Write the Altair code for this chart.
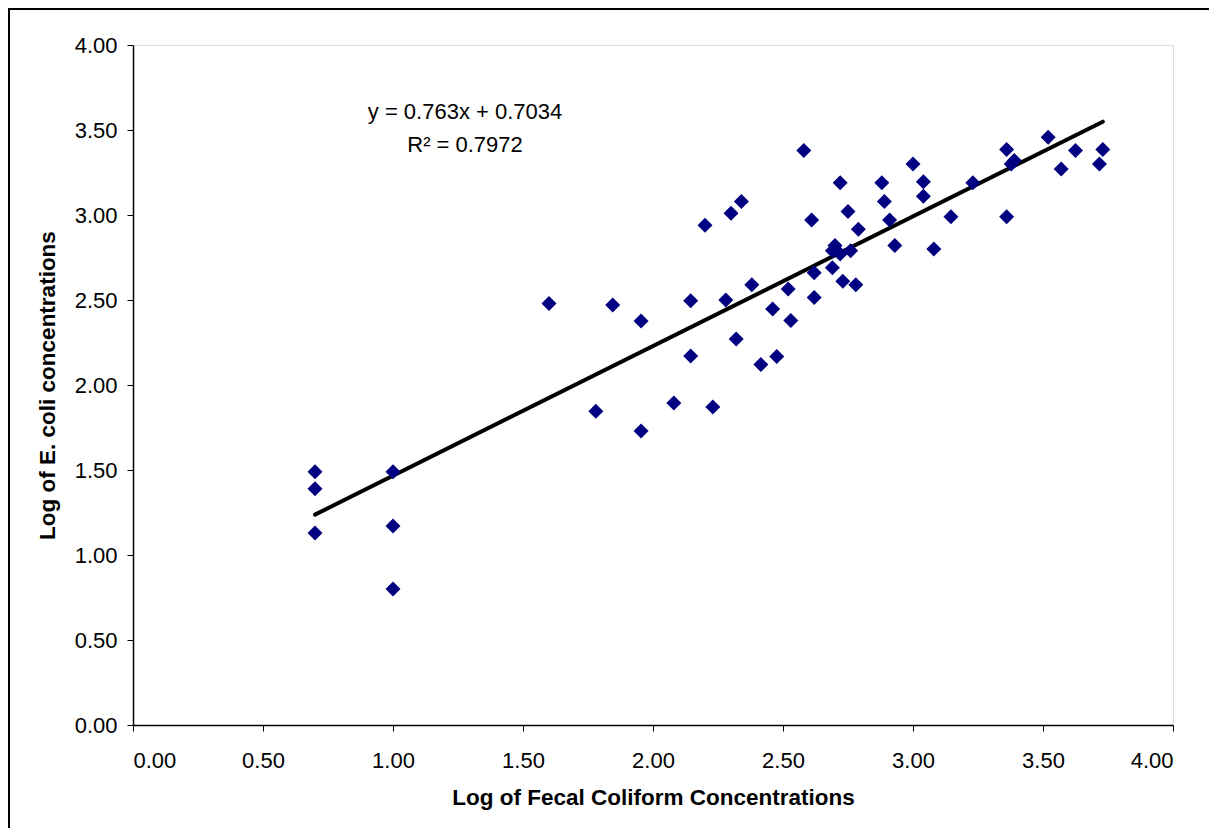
import altair as alt
import pandas as pd

# Scatter data (log fecal coliform vs log E. coli)
fecal_log = [0.70, 0.70, 0.70, 1.00, 1.00, 1.00, 1.60, 1.78, 1.845, 1.954,
             1.954, 2.08, 2.145, 2.145, 2.20, 2.23, 2.28, 2.30, 2.32, 2.34,
             2.38, 2.415, 2.46, 2.476, 2.52, 2.53, 2.58, 2.61, 2.62, 2.62,
             2.69, 2.69, 2.70, 2.72, 2.72, 2.73, 2.75, 2.76, 2.78, 2.79,
             2.88, 2.89, 2.91, 2.93, 3.00, 3.04, 3.04, 3.08, 3.146, 3.23,
             3.36, 3.36, 3.378, 3.39, 3.52, 3.57, 3.625, 3.717, 3.73]
ecoli_log = [1.49, 1.39, 1.13, 1.49, 1.17, 0.80, 2.48, 1.845, 2.47, 2.376,
             1.73, 1.894, 2.496, 2.17, 2.94, 1.87, 2.50, 3.01, 2.27, 3.08,
             2.59, 2.12, 2.447, 2.167, 2.565, 2.38, 3.38, 2.97, 2.66, 2.515,
             2.69, 2.79, 2.82, 2.77, 3.19, 2.61, 3.02, 2.79, 2.59, 2.916,
             3.19, 3.08, 2.97, 2.82, 3.30, 3.196, 3.11, 2.80, 2.99, 3.19,
             3.386, 2.99, 3.30, 3.32, 3.457, 3.27, 3.38, 3.30, 3.386]

# Trendline endpoints (y = 0.763x + 0.7034)
trend_x = [0.70, 3.73]
trend_y = [1.2375, 3.549]

eq_lines = ["y = 0.763x + 0.7034", "R² = 0.7972"]

tick_vals = [0.0, 0.5, 1.0, 1.5, 2.0, 2.5, 3.0, 3.5, 4.0]

W, H = 1040, 680
FONT = "Liberation Sans"

pts = pd.DataFrame({"x": fecal_log, "y": ecoli_log})
trend = pd.DataFrame({"x": trend_x, "y": trend_y})

xscale = alt.Scale(domain=[0, 4], nice=False)
yscale = alt.Scale(domain=[0, 4], nice=False)

xaxis = alt.Axis(values=tick_vals, format=".2f", grid=False,
                 title="Log of Fecal Coliform Concentrations",
                 domainColor="black", domainWidth=1.5, tickColor="black",
                 tickSize=6, labelPadding=19, labelFontSize=22, labelFont=FONT,
                 labelColor="black", titleFont=FONT, titleFontSize=22.5,
                 titleFontWeight="bold", titleColor="black", titlePadding=15)
yaxis = alt.Axis(values=tick_vals, format=".2f", grid=False,
                 title="Log of E. coli concentrations",
                 domainColor="black", domainWidth=1.5, tickColor="black",
                 tickSize=6, labelPadding=10, labelFontSize=22, labelFont=FONT,
                 labelColor="black", titleFont=FONT, titleFontSize=22.5,
                 titleFontWeight="bold", titleColor="black", titlePadding=15)

one = pd.DataFrame({"a": [0]})
frame_left = alt.Chart(one).mark_rule(color="black", strokeWidth=2, clip=False).encode(
    x=alt.value(-124), y=alt.value(-37), y2=alt.value(H + 200))
frame_top = alt.Chart(one).mark_rule(color="black", strokeWidth=2, clip=False).encode(
    x=alt.value(-125), x2=alt.value(W + 200), y=alt.value(-36))

scatter = alt.Chart(pts).mark_point(
    shape="diamond", filled=True, color="#000080", size=225, opacity=1
).encode(
    x=alt.X("x:Q", scale=xscale, axis=xaxis),
    y=alt.Y("y:Q", scale=yscale, axis=yaxis),
)

line = alt.Chart(trend).mark_line(color="black", strokeWidth=4, strokeCap="round").encode(
    x=alt.X("x:Q", scale=xscale), y=alt.Y("y:Q", scale=yscale)
)

eq1 = alt.Chart(pd.DataFrame({"t": [eq_lines[0]]})).mark_text(
    font=FONT, fontSize=22, color="black", align="center", baseline="middle"
).encode(x=alt.datum(1.277), y=alt.datum(3.606), text="t:N")
eq2 = alt.Chart(pd.DataFrame({"t": [eq_lines[1]]})).mark_text(
    font=FONT, fontSize=22, color="black", align="center", baseline="middle"
).encode(x=alt.datum(1.277), y=alt.datum(3.41), text="t:N")

chart = alt.layer(frame_left, frame_top, line, scatter, eq1, eq2).properties(
    width=W, height=H,
    autosize=alt.AutoSizeParams(type="none"),
    padding={"left": 125, "top": 37, "right": 36, "bottom": 103},
).configure_view(stroke="#808080", strokeWidth=2.5).configure(background="white")

chart.save("out.html", embed_options={"renderer": "svg", "actions": False})
